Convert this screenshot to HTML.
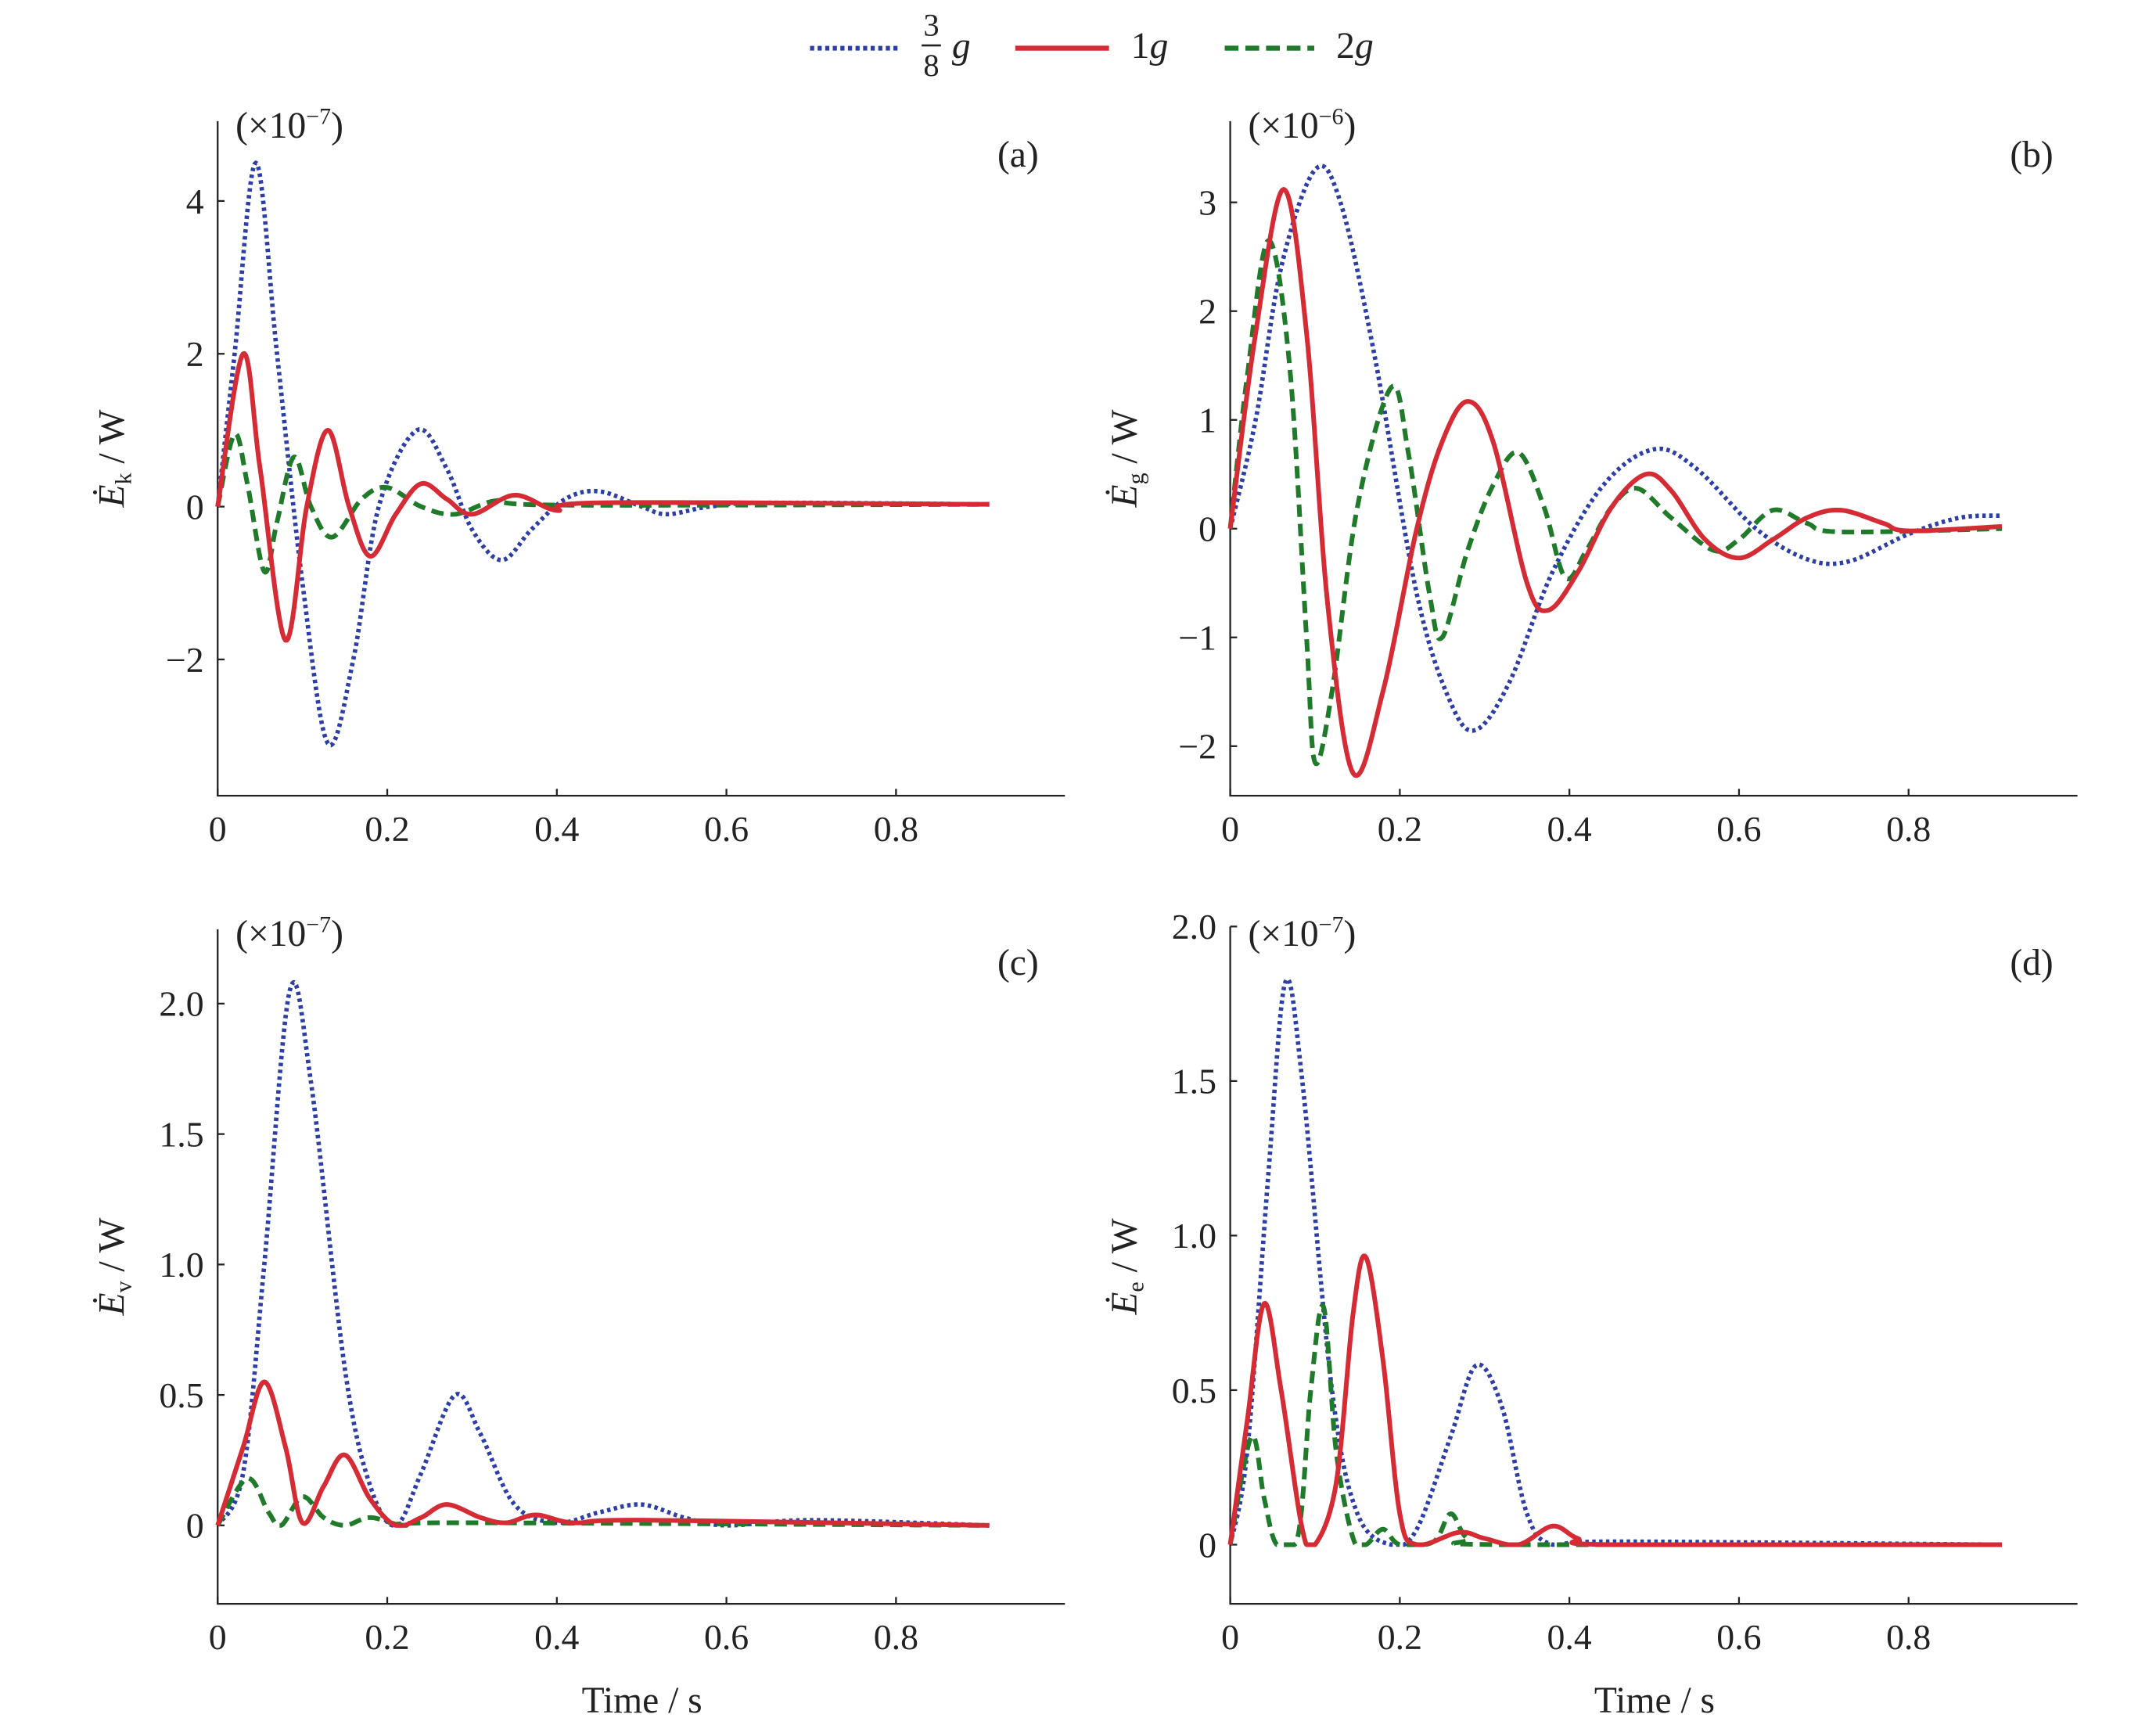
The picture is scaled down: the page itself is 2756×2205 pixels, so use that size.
<!DOCTYPE html>
<html><head><meta charset="utf-8"><style>
html,body{margin:0;padding:0;background:#fff;}
svg{display:block;}
text{font-family:"Liberation Serif",serif;fill:#222;}
</style></head><body>
<svg id="s" width="2756" height="2205" viewBox="0 0 1565 1253" preserveAspectRatio="none" xmlns="http://www.w3.org/2000/svg">
<g id="axes" stroke="#222" stroke-width="1.3" fill="none"></g>
<g id="curves" fill="none" stroke-width="3.4" stroke-linejoin="round"></g>
<g font-size="27">
<line x1="588" y1="35" x2="652" y2="35" stroke="#2d3fa7" stroke-width="3.4" stroke-dasharray="3,2.5"/>
<text x="676" y="26" font-size="23" text-anchor="middle">3</text>
<line x1="669" y1="33" x2="683" y2="33" stroke="#222" stroke-width="1.5"/>
<text x="676" y="55" font-size="23" text-anchor="middle">8</text>
<text x="691" y="42" font-style="italic">g</text>
<line x1="737" y1="35" x2="805" y2="35" stroke="#d52b35" stroke-width="3.6"/>
<text x="821" y="42">1<tspan font-style="italic">g</tspan></text>
<line x1="889" y1="35" x2="954" y2="35" stroke="#1f7a2a" stroke-width="3.6" stroke-dasharray="10,5"/>
<text x="970" y="42">2<tspan font-style="italic">g</tspan></text>
<text x="171" y="100">(×10<tspan font-size="17" dy="-10">−7</tspan><tspan dy="10">)</tspan></text>
<text x="906" y="100">(×10<tspan font-size="17" dy="-10">−6</tspan><tspan dy="10">)</tspan></text>
<text x="171" y="687">(×10<tspan font-size="17" dy="-10">−7</tspan><tspan dy="10">)</tspan></text>
<text x="906" y="687">(×10<tspan font-size="17" dy="-10">−7</tspan><tspan dy="10">)</tspan></text>
<text x="724" y="121">(a)</text><text x="1459" y="121">(b)</text>
<text x="724" y="708">(c)</text><text x="1459" y="708">(d)</text>
<text transform="translate(90,333) rotate(-90)" text-anchor="middle"><tspan font-style="italic">Ė</tspan><tspan font-size="17" dy="5">k</tspan><tspan dy="-5"> / W</tspan></text>
<text transform="translate(825,333) rotate(-90)" text-anchor="middle"><tspan font-style="italic">Ė</tspan><tspan font-size="17" dy="5">g</tspan><tspan dy="-5"> / W</tspan></text>
<text transform="translate(90,920) rotate(-90)" text-anchor="middle"><tspan font-style="italic">Ė</tspan><tspan font-size="17" dy="5">v</tspan><tspan dy="-5"> / W</tspan></text>
<text transform="translate(825,920) rotate(-90)" text-anchor="middle"><tspan font-style="italic">Ė</tspan><tspan font-size="17" dy="5">e</tspan><tspan dy="-5"> / W</tspan></text>
<text x="466" y="1244" text-anchor="middle">Time / s</text>
<text x="1201" y="1244" text-anchor="middle">Time / s</text>
</g>
<g id="labels" font-size="26"></g>
</svg>
<script>
const NS="http://www.w3.org/2000/svg";
function el(p,t,a,txt){const e=document.createElementNS(NS,t);for(const k in a)e.setAttribute(k,a[k]);if(txt!==undefined)e.textContent=txt;p.appendChild(e);return e;}
const axes=document.getElementById('axes'),cur=document.getElementById('curves'),lab=document.getElementById('labels');
const P=[
{x0:158,x1:773,yb:578,yt:88,y0:368,s:55.5,ticks:[[4,"4"],[2,"2"],[0,"0"],[-2,"−2"]]},
{x0:893,x1:1508,yb:578,yt:88,y0:384,s:79,ticks:[[3,"3"],[2,"2"],[1,"1"],[0,"0"],[-1,"−1"],[-2,"−2"]]},
{x0:158,x1:773,yb:1165,yt:675,y0:1108,s:189.5,clamp:1,ticks:[[2,"2.0"],[1.5,"1.5"],[1,"1.0"],[0.5,"0.5"],[0,"0"]]},
{x0:893,x1:1508,yb:1165,yt:673,y0:1122,s:224.5,clamp:1,ticks:[[2,"2.0"],[1.5,"1.5"],[1,"1.0"],[0.5,"0.5"],[0,"0"]]}];
const XS=615.5;
P.forEach(p=>{
 el(axes,'path',{d:`M${p.x0},${p.yt}V${p.yb}H${p.x1}`});
 p.ticks.forEach(([v,t])=>{const y=p.y0-v*p.s;el(axes,'line',{x1:p.x0,y1:y,x2:p.x0+5,y2:y});el(lab,'text',{x:p.x0-10,y:y+9,'text-anchor':'end'},t);});
 [0,0.2,0.4,0.6,0.8].forEach(v=>{const x=p.x0+v*XS;el(axes,'line',{x1:x,y1:p.yb,x2:x,y2:p.yb-5});el(lab,'text',{x:x,y:p.yb+33,'text-anchor':'middle'},v==0?"0":v.toFixed(1));});
});
const D=[
[[[0,0],[0.02,2],[0.045,4.5],[0.07,2],[0.1,-1],[0.13,-3.1],[0.16,-2],[0.19,0],[0.235,1],[0.27,0.5],[0.3,-0.3],[0.335,-0.7],[0.37,-0.3],[0.41,0.1],[0.45,0.2],[0.5,0],[0.53,-0.1],[0.58,0],[0.65,0.05],[0.91,0.03]],
[[0,0],[0.03,2],[0.05,0.5],[0.08,-1.75],[0.105,0],[0.13,1],[0.155,0],[0.18,-0.65],[0.21,-0.1],[0.24,0.3],[0.27,0.1],[0.3,-0.1],[0.35,0.15],[0.4,-0.05],[0.45,0.05],[0.91,0.03]],
[[0,0],[0.02,0.95],[0.035,0.3],[0.055,-0.85],[0.07,-0.2],[0.09,0.65],[0.11,0],[0.135,-0.4],[0.17,0.1],[0.2,0.25],[0.24,0],[0.28,-0.1],[0.33,0.08],[0.4,0.02],[0.91,0.03]]],
[[[0,0],[0.03,1],[0.06,2.4],[0.1,3.3],[0.13,3],[0.17,1.6],[0.22,-0.6],[0.26,-1.6],[0.29,-1.85],[0.33,-1.4],[0.38,-0.4],[0.44,0.4],[0.5,0.73],[0.55,0.55],[0.62,0],[0.68,-0.28],[0.73,-0.3],[0.8,-0.05],[0.86,0.1],[0.91,0.12]],
[[0,0],[0.03,1.8],[0.063,3.12],[0.09,1.8],[0.115,-0.7],[0.145,-2.25],[0.18,-1.5],[0.22,0],[0.25,0.8],[0.28,1.17],[0.31,0.8],[0.35,-0.5],[0.375,-0.75],[0.41,-0.4],[0.45,0.2],[0.49,0.5],[0.52,0.35],[0.56,-0.1],[0.6,-0.27],[0.64,-0.1],[0.68,0.1],[0.72,0.17],[0.77,0.05],[0.8,-0.02],[0.91,0.02]],
[[0,0],[0.02,1.4],[0.045,2.65],[0.07,1.5],[0.09,-1],[0.1,-2.15],[0.12,-1.5],[0.15,0.2],[0.19,1.3],[0.21,0.7],[0.235,-0.6],[0.25,-1],[0.28,-0.2],[0.31,0.4],[0.34,0.7],[0.37,0.2],[0.395,-0.45],[0.42,-0.2],[0.45,0.2],[0.48,0.37],[0.52,0.1],[0.57,-0.2],[0.6,-0.1],[0.64,0.17],[0.68,0.05],[0.72,-0.03],[0.91,0]]],
[[[0,0],[0.03,0.2],[0.055,1.0],[0.085,2.05],[0.11,1.7],[0.15,0.6],[0.18,0.15],[0.21,0],[0.24,0.2],[0.28,0.5],[0.31,0.35],[0.35,0.08],[0.4,0.01],[0.45,0.05],[0.5,0.08],[0.55,0.03],[0.6,0],[0.7,0.02],[0.91,0]],
[[0,0],[0.03,0.3],[0.055,0.55],[0.08,0.3],[0.1,0.01],[0.125,0.15],[0.15,0.27],[0.18,0.1],[0.21,0],[0.24,0.03],[0.27,0.08],[0.31,0.03],[0.34,0.01],[0.375,0.04],[0.42,0.01],[0.5,0.02],[0.91,0]],
[[0,0],[0.035,0.18],[0.06,0.05],[0.075,0],[0.1,0.11],[0.125,0.03],[0.15,0],[0.18,0.03],[0.22,0],[0.28,0.01],[0.91,0]]],
[[[0,0],[0.02,0.3],[0.045,1.2],[0.065,1.82],[0.085,1.5],[0.12,0.5],[0.15,0.1],[0.19,0],[0.22,0.05],[0.26,0.35],[0.29,0.58],[0.32,0.45],[0.35,0.1],[0.38,0],[0.45,0.01],[0.91,0]],
[[0,0],[0.02,0.4],[0.04,0.78],[0.06,0.5],[0.085,0.05],[0.1,0],[0.125,0.2],[0.145,0.75],[0.16,0.93],[0.18,0.6],[0.2,0.1],[0.22,0],[0.27,0.04],[0.3,0.02],[0.34,0],[0.38,0.06],[0.41,0.02],[0.45,0],[0.91,0]],
[[0,0],[0.025,0.35],[0.04,0.15],[0.055,0],[0.08,0.03],[0.095,0.5],[0.11,0.77],[0.125,0.3],[0.145,0.02],[0.16,0],[0.18,0.05],[0.2,0],[0.24,0.01],[0.26,0.1],[0.28,0.02],[0.32,0],[0.91,0]]]];
const ST=[{stroke:'#2d3fa7','stroke-dasharray':'2.5,2.5','stroke-width':3.2},{stroke:'#d52b35','stroke-width':3.4},{stroke:'#1f7a2a','stroke-dasharray':'9,5','stroke-width':3.4}];
function path(pts,ymax){const out=[];for(let i=0;i<pts.length-1;i++){const p0=pts[Math.max(0,i-1)],p1=pts[i],p2=pts[i+1],p3=pts[Math.min(pts.length-1,i+2)];
const c1=[p1[0]+(p2[0]-p0[0])/6,p1[1]+(p2[1]-p0[1])/6],c2=[p2[0]-(p3[0]-p1[0])/6,p2[1]-(p3[1]-p1[1])/6];
for(let j=(i?1:0);j<=16;j++){const t=j/16,u=1-t;let x=u*u*u*p1[0]+3*u*u*t*c1[0]+3*u*t*t*c2[0]+t*t*t*p2[0];let y=u*u*u*p1[1]+3*u*u*t*c1[1]+3*u*t*t*c2[1]+t*t*t*p2[1];if(ymax!==undefined&&y>ymax)y=ymax;out.push(x.toFixed(2)+','+y.toFixed(2));}}
return 'M'+out.join(' L');}
[0,2,1].forEach(k=>{P.forEach((p,i)=>{const pts=D[i][k].map(([t,v])=>[p.x0+t*XS,p.y0-v*p.s]);const a=Object.assign({d:path(pts,p.clamp?p.y0:undefined)},ST[k]);el(cur,'path',a);});});
</script>
</body></html>
